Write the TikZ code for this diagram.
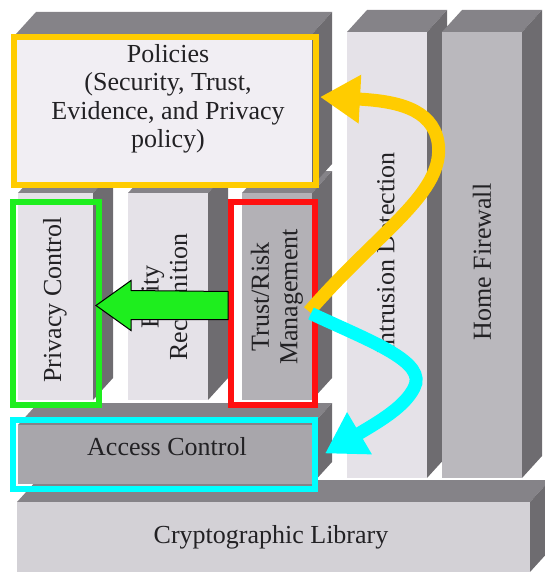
\documentclass[tikz,border=0pt]{standalone}
\usepackage{fontspec}
\setmainfont{Liberation Serif}
\usetikzlibrary{arrows.meta,calc}

\definecolor{sidegray}{HTML}{6E6C70}
\definecolor{topgray}{HTML}{858388}
\definecolor{palegray}{HTML}{F1EEF3}
\definecolor{lightgray}{HTML}{E5E2E8}
\definecolor{midgray}{HTML}{BAB8BD}
\definecolor{trustgray}{HTML}{B3B1B6}
\definecolor{accgray}{HTML}{A8A6AB}
\definecolor{cryptgray}{HTML}{D3D1D6}
\definecolor{labelgray}{HTML}{222124}
\definecolor{polyellow}{HTML}{FFCC00}
\definecolor{privgreen}{HTML}{1EEE1E}
\definecolor{trustred}{HTML}{FF1010}
\definecolor{acccyan}{HTML}{00FFFF}

\tikzstyle{lbl}=[text=labelgray,
                 font=\fontsize{26}{28.5}\selectfont,
                 align=center,
                 inner sep=0pt]
\tikzstyle{frame}=[draw, line width=6pt, inner sep=0pt]
\tikzstyle{flow}=[line width=13pt, -{Triangle[length=40pt,width=46pt]}]
\tikzstyle{pointer}=[draw=black, fill=privgreen, line width=1pt, line join=miter]

% front face (#1,#2)-(#3,#4), depth drawn up and to the right
\newcommand{\slab}[5]{%
  \fill[topgray] (#1,#2) -- ++(20,-22) -- (#3+20,#2-22) -- (#3,#2) -- cycle;
  \fill[sidegray] (#3,#2) -- ++(20,-22) -- (#3+20,#4-22) -- (#3,#4) -- cycle;
  \fill[#5] (#1,#2) rectangle (#3,#4);}

\begin{document}
\begin{tikzpicture}[x=1pt,y=-1pt]
    \useasboundingbox (0,0) rectangle (544,572);

    % blocks, back to front
    \slab{17}{502}{530}{572}{cryptgray}
    \slab{347}{32}{427}{478}{lightgray}
    \slab{442}{32}{522}{478}{midgray}
    \slab{18}{193}{93}{400}{lightgray}
    \slab{128}{193}{208}{400}{lightgray}
    \slab{242}{193}{312}{400}{trustgray}
    \slab{16}{34}{312}{186}{palegray}
    \slab{18}{425}{312}{484}{accgray}

    % labels
    \node [lbl] (pol) at (168,99) {Policies\\(Security, Trust,\\Evidence, and Privacy\\policy)};
    \node [lbl, rotate=90] (priv) at (55,300) {Privacy Control};
    \node [lbl, rotate=90] (ent) at (167,297) {Entity\\Recognition};
    \node [lbl, rotate=90] (trust) at (277,297) {Trust/Risk\\Management};
    \node [lbl, rotate=90] (ids) at (386,253) {Intrusion Detection};
    \node [lbl, rotate=90] (fw) at (482,262) {Home Firewall};
    \node [lbl] (acc) at (167,447) {Access Control};
    \node [lbl] (crypt) at (271,537) {Cryptographic Library};

    % highlight frames
    \node [frame, draw=polyellow, minimum width=302pt, minimum height=148pt] (polfr) at (165,111) {};
    \node [frame, draw=privgreen, minimum width=86pt, minimum height=203pt] (privfr) at (56,303.5) {};
    \node [frame, draw=trustred, minimum width=84pt, minimum height=203pt] (trustfr) at (273,303.5) {};
    \node [frame, draw=acccyan, minimum width=302pt, minimum height=69pt] (accfr) at (164,454.5) {};

    % green arrow Trust -> Privacy
    \path (privfr.east) ++(-6,2) coordinate (gtip);
    \path (trustfr.west) ++(0,2) coordinate (gtail);
    \draw [pointer] (gtip) -- ++(35,-25) -- ++(0,10) -- ($(gtail)+(0,-14)$)
        -- ($(gtail)+(0,14)$) -- ($(gtip)+(35,14)$) -- ++(0,11) -- cycle;

    % curved arrows out of Trust/Risk
    \path (trustfr.east) ++(-9,8) coordinate (ys);
    \path (polfr.east) ++(1,-14) coordinate (ye);
    \path (trustfr.east) ++(-7,10) coordinate (cs);
    \path (accfr.east) ++(7,-1) coordinate (ce);
    \draw [flow, polyellow] (ys) .. controls (380,230) and (446,192) .. (438,142)
        .. controls (432,108) and (395,101) .. (ye);
    \draw [flow, acccyan] (cs) .. controls (372,342) and (428,362) .. (414,388)
        .. controls (405,406) and (382,420) .. (ce);
\end{tikzpicture}
\end{document}
